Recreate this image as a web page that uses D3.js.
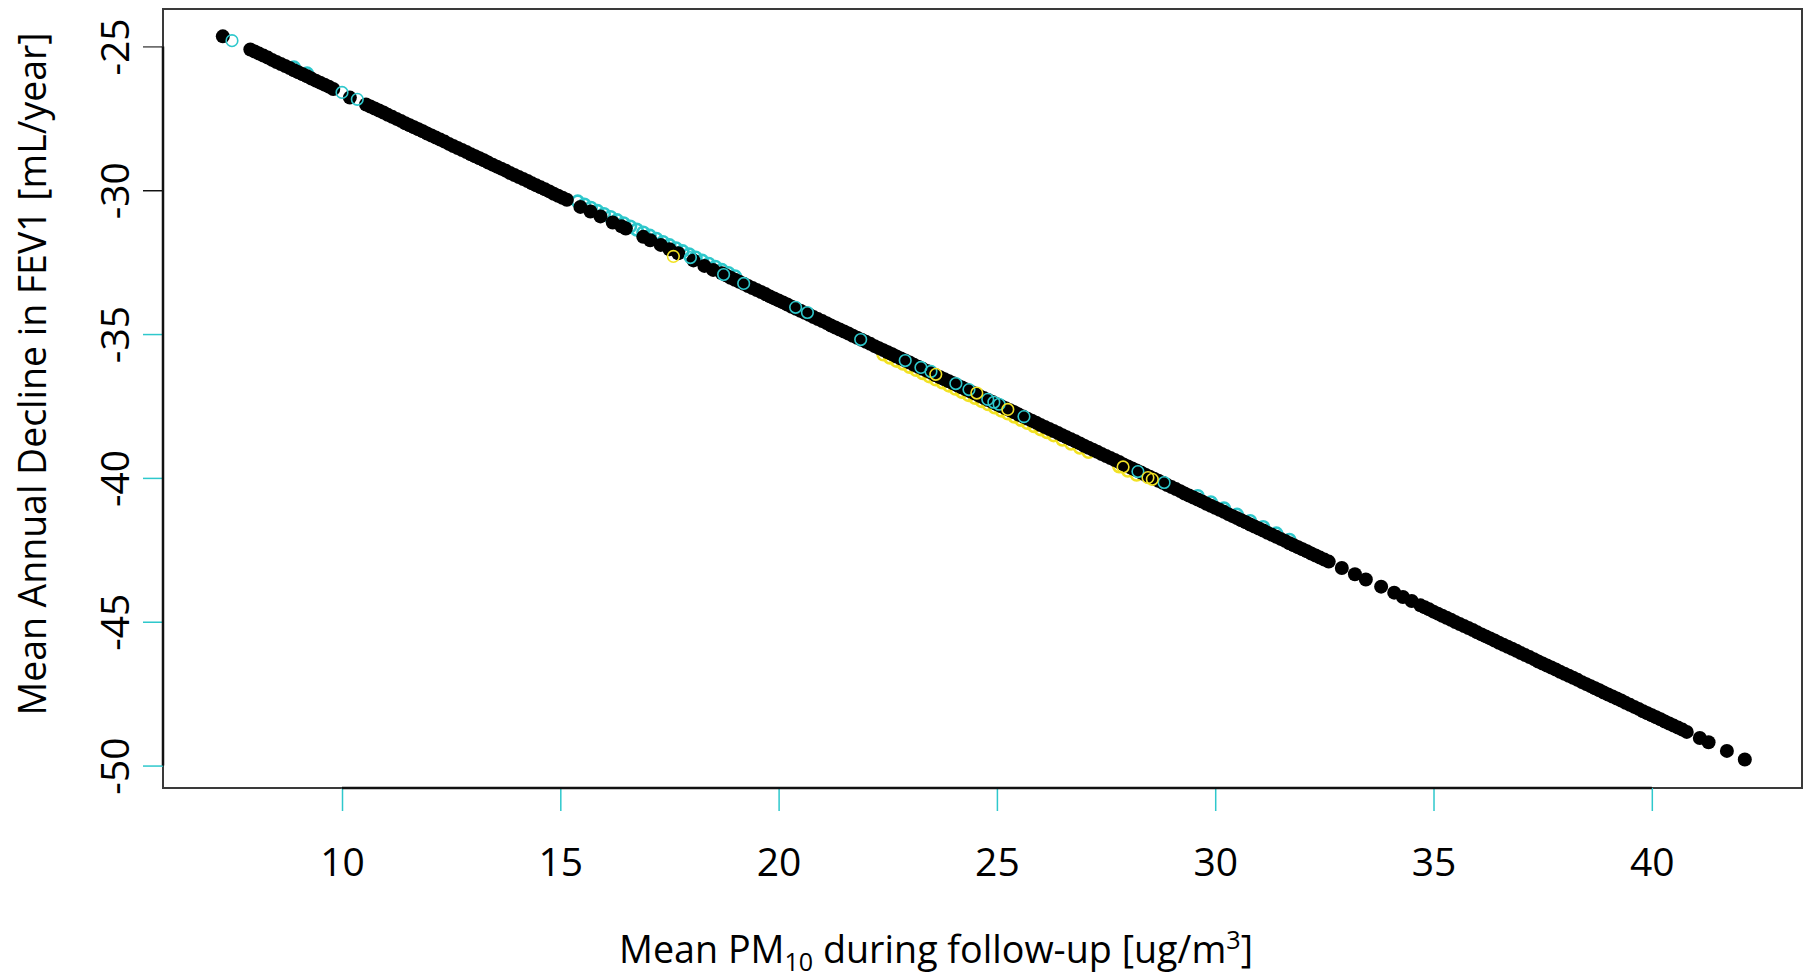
<!DOCTYPE html>
<html>
<head>
<meta charset="utf-8">
<script src="https://cdn.jsdelivr.net/npm/d3@7"></script>
<style>
  body { margin: 0; background: #fff; }
  text { font-family: "Open Sans", "DejaVu Sans", sans-serif; fill: #000; }
</style>
</head>
<body>
<svg width="1803" height="980"></svg>
<script>
// tick labels
var xTicks = [10, 15, 20, 25, 30, 35, 40];
var yTicks = [-25, -30, -35, -40, -45, -50];

// black filled points
var blackX = [7.27,
  7.9, 8.0, 8.1, 8.2, 8.3, 8.4, 8.5, 8.6, 8.7, 8.8, 8.9, 9.0, 9.1, 9.2, 9.3, 9.4, 9.5, 9.6, 9.7, 9.8,
  10.18,
  10.55, 10.65, 10.75, 10.85, 10.95, 11.05, 11.15, 11.25, 11.35, 11.45, 11.55, 11.65, 11.75, 11.85,
  11.95, 12.05, 12.15, 12.25, 12.35, 12.45, 12.55, 12.65, 12.75, 12.85, 12.95, 13.05, 13.15, 13.25,
  13.35, 13.45, 13.55, 13.65, 13.75, 13.85, 13.95, 14.05, 14.15, 14.25, 14.35, 14.45, 14.55, 14.65,
  14.75, 14.85, 14.95, 15.05, 15.15,
  15.46, 15.69, 15.92, 16.2, 16.4, 16.5, 16.9, 17.06, 17.3, 17.5, 17.7, 18.05, 18.3, 18.5,
  18.7, 18.8, 18.9, 19.0, 19.1, 19.2, 19.3, 19.4, 19.5, 19.6, 19.7, 19.8, 19.9, 20.0,
  20.1, 20.2, 20.3, 20.4, 20.5, 20.6, 20.7, 20.8, 20.9, 21.0, 21.1, 21.2, 21.3, 21.4,
  21.5, 21.6, 21.7, 21.8, 21.9, 22.0, 22.1, 22.2, 22.3, 22.4, 22.5, 22.6, 22.7, 22.8,
  22.9, 23.0, 23.1, 23.2, 23.3, 23.4, 23.5, 23.6, 23.7, 23.8, 23.9, 24.0, 24.1, 24.2,
  24.3, 24.4, 24.5, 24.6, 24.7, 24.8, 24.9, 25.0, 25.1, 25.2, 25.3, 25.4, 25.5, 25.6,
  25.7, 25.8, 25.9, 26.0, 26.1, 26.2, 26.3, 26.4, 26.5, 26.6, 26.7, 26.8, 26.9, 27.0,
  27.1, 27.2, 27.3, 27.4, 27.5, 27.6, 27.7, 27.8, 27.9, 28.0, 28.1, 28.2, 28.3, 28.4,
  28.5, 28.6, 28.7, 28.8, 28.9, 29.0, 29.1, 29.2, 29.3, 29.4, 29.5, 29.6, 29.7, 29.8,
  29.9, 30.0, 30.1, 30.2, 30.3, 30.4, 30.5, 30.6, 30.7, 30.8, 30.9, 31.0, 31.1, 31.2,
  31.3, 31.4, 31.5, 31.6, 31.7, 31.8, 31.9, 32.0, 32.1, 32.2, 32.3, 32.4, 32.5, 32.6,
  32.9, 33.2, 33.45, 33.8, 34.1, 34.3, 34.5,
  34.7, 34.8, 34.9, 35.0, 35.1, 35.2, 35.3, 35.4, 35.5, 35.6, 35.7, 35.8, 35.9, 36.0,
  36.1, 36.2, 36.3, 36.4, 36.5, 36.6, 36.7, 36.8, 36.9, 37.0, 37.1, 37.2, 37.3, 37.4,
  37.5, 37.6, 37.7, 37.8, 37.9, 38.0, 38.1, 38.2, 38.3, 38.4, 38.5, 38.6, 38.7, 38.8,
  38.9, 39.0, 39.1, 39.2, 39.3, 39.4, 39.5, 39.6, 39.7, 39.8, 39.9, 40.0, 40.1, 40.2,
  40.3, 40.4, 40.5, 40.6, 40.7, 40.8,
  41.1, 41.3, 41.72, 42.13];
var blackY = [-24.65,
  -25.11, -25.18, -25.25, -25.32, -25.39, -25.47, -25.54, -25.61, -25.68, -25.75, -25.83, -25.90, -25.97, -26.04, -26.12, -26.19, -26.26, -26.33, -26.40, -26.48,
  -26.78,
  -27.02, -27.09, -27.16, -27.23, -27.30, -27.38, -27.45, -27.52, -27.59, -27.67, -27.74, -27.81, -27.88, -27.95,
  -28.03, -28.10, -28.17, -28.24, -28.31, -28.39, -28.46, -28.53, -28.60, -28.67, -28.75, -28.82, -28.89, -28.96,
  -29.04, -29.11, -29.18, -29.25, -29.32, -29.40, -29.47, -29.54, -29.61, -29.68, -29.76, -29.83, -29.90, -29.97,
  -30.04, -30.12, -30.19, -30.26, -30.33,
  -30.58, -30.74, -30.91, -31.12, -31.25, -31.33, -31.62, -31.74, -31.90, -32.05, -32.19, -32.44, -32.63, -32.77,
  -32.89, -32.96, -33.04, -33.11, -33.18, -33.25, -33.33, -33.40, -33.47, -33.54, -33.61, -33.69, -33.76, -33.83,
  -33.90, -33.97, -34.05, -34.12, -34.19, -34.26, -34.33, -34.41, -34.48, -34.55, -34.62, -34.70, -34.77, -34.84,
  -34.91, -34.98, -35.06, -35.13, -35.20, -35.27, -35.34, -35.42, -35.49, -35.56, -35.63, -35.70, -35.78, -35.85,
  -35.92, -35.99, -36.07, -36.14, -36.21, -36.28, -36.35, -36.43, -36.50, -36.57, -36.64, -36.71, -36.79, -36.86,
  -36.93, -37.00, -37.07, -37.15, -37.22, -37.29, -37.36, -37.44, -37.51, -37.58, -37.65, -37.72, -37.80, -37.87,
  -37.94, -38.01, -38.08, -38.16, -38.23, -38.30, -38.37, -38.44, -38.52, -38.59, -38.66, -38.73, -38.80, -38.88,
  -38.95, -39.02, -39.09, -39.17, -39.24, -39.31, -39.38, -39.45, -39.53, -39.60, -39.67, -39.74, -39.81, -39.89,
  -39.96, -40.03, -40.10, -40.17, -40.25, -40.32, -40.39, -40.46, -40.54, -40.61, -40.68, -40.75, -40.82, -40.90,
  -40.97, -41.04, -41.11, -41.18, -41.26, -41.33, -41.40, -41.47, -41.54, -41.62, -41.69, -41.76, -41.83, -41.91,
  -41.98, -42.05, -42.12, -42.19, -42.27, -42.34, -42.41, -42.48, -42.55, -42.63, -42.70, -42.77, -42.84, -42.91,
  -43.13, -43.35, -43.53, -43.78, -43.99, -44.14, -44.28,
  -44.43, -44.50, -44.57, -44.65, -44.72, -44.79, -44.86, -44.93, -45.01, -45.08, -45.15, -45.22, -45.29, -45.37,
  -45.44, -45.51, -45.58, -45.65, -45.73, -45.80, -45.87, -45.94, -46.01, -46.09, -46.16, -46.23, -46.30, -46.38,
  -46.45, -46.52, -46.59, -46.66, -46.74, -46.81, -46.88, -46.95, -47.02, -47.10, -47.17, -47.24, -47.31, -47.38,
  -47.46, -47.53, -47.60, -47.67, -47.74, -47.82, -47.89, -47.96, -48.03, -48.11, -48.18, -48.25, -48.32, -48.39,
  -48.47, -48.54, -48.61, -48.68, -48.75, -48.83,
  -49.04, -49.19, -49.49, -49.79];

// cyan open circles lying under the black band
var cyanUnderX = [8.9, 9.2,
  15.4, 15.55, 15.7, 15.85, 16.0, 16.15, 16.3, 16.45, 16.6, 16.75, 16.9, 17.05, 17.2,
  17.35, 17.5, 17.65, 17.8, 17.95, 18.1, 18.25, 18.4, 18.55, 18.7, 18.85, 19.0,
  29.6, 29.9, 30.2, 30.5, 30.8, 31.1, 31.4, 31.7];
var cyanUnderY = [-25.73, -25.94,
  -30.39, -30.50, -30.61, -30.72, -30.83, -30.93, -31.04, -31.15, -31.26, -31.37, -31.47, -31.58, -31.69,
  -31.80, -31.91, -32.02, -32.12, -32.23, -32.34, -32.45, -32.56, -32.66, -32.77, -32.88, -32.99,
  -40.63, -40.85, -41.06, -41.28, -41.50, -41.71, -41.93, -42.15];

// yellow open circles lying under the black band
var yellowUnderX = [22.4, 22.55, 22.7, 22.85, 23.0, 23.15, 23.3, 23.45, 23.6, 23.75, 23.9, 24.05,
  24.2, 24.35, 24.5, 24.65, 24.8, 24.95, 25.1, 25.25, 25.4, 25.55, 25.7, 25.85, 26.0, 26.15,
  26.3, 26.5, 26.7, 26.9, 27.1, 27.8, 28.0, 28.2];
var yellowUnderY = [-35.71, -35.82, -35.93, -36.03, -36.14, -36.25, -36.36, -36.47, -36.58, -36.68, -36.79, -36.90,
  -37.01, -37.12, -37.22, -37.33, -37.44, -37.55, -37.66, -37.76, -37.87, -37.98, -38.09, -38.20, -38.31, -38.41,
  -38.52, -38.67, -38.81, -38.95, -39.10, -39.60, -39.75, -39.89];

// open circles drawn over the black band
var cyanX = [7.48, 10.0, 10.35, 17.98, 18.74, 19.2, 20.39, 20.66, 21.88, 22.9, 23.26, 23.49,
  24.06, 24.36, 24.79, 24.93, 25.05, 25.62, 28.23, 28.83];
var cyanY = [-24.80, -26.60, -26.84, -32.34, -32.93, -33.24, -34.07, -34.25, -35.19, -35.92, -36.16, -36.30,
  -36.72, -36.93, -37.27, -37.37, -37.44, -37.87, -39.78, -40.16];
var yellowX = [17.59, 23.60, 24.54, 25.25, 27.89, 28.46, 28.56];
var yellowY = [-32.30, -36.40, -37.05, -37.62, -39.62, -39.99, -40.05];

var cyan = "#2ec8cc",
    yellow = "#f2e224";

var svg = d3.select("svg"),
    plotLeft = 163, plotTop = 9, plotRight = 1802, plotBottom = 788;

var x = d3.scaleLinear()
    .domain([5.9, 43.44])
    .range([plotLeft, plotRight]);

var y = d3.scaleLinear()
    .domain([-50.78, -23.70])
    .range([plotBottom, plotTop]);

var r = 7;

// plot box
svg.append("rect")
    .attr("x", plotLeft)
    .attr("y", plotTop)
    .attr("width", plotRight - plotLeft)
    .attr("height", plotBottom - plotTop)
    .attr("fill", "none")
    .attr("stroke", "#3a3a3a")
    .attr("stroke-width", 2);

function openCircles(xs, ys, color, sw) {
    svg.append("g")
        .selectAll("circle")
        .data(d3.zip(xs, ys)).enter()
        .append("circle")
        .attr("cx", function(d) { return x(d[0]); })
        .attr("cy", function(d) { return y(d[1]); })
        .attr("r", r - 1.2)
        .attr("fill", "none")
        .attr("stroke", color)
        .attr("stroke-width", sw);
}

openCircles(cyanUnderX, cyanUnderY, cyan, 2.6);
openCircles(yellowUnderX, yellowUnderY, yellow, 2.6);

svg.append("g")
    .selectAll("circle")
    .data(d3.zip(blackX, blackY)).enter()
    .append("circle")
    .attr("cx", function(d) { return x(d[0]); })
    .attr("cy", function(d) { return y(d[1]); })
    .attr("r", r)
    .attr("fill", "#000");

openCircles(cyanX, cyanY, cyan, 1.6);
openCircles(yellowX, yellowY, yellow, 1.6);

// x axis
var gx = svg.append("g")
    .attr("transform", "translate(0," + plotBottom + ")")
    .call(d3.axisBottom(x).tickValues(xTicks).tickSize(23).tickSizeOuter(0)
        .tickFormat(function(d) { return String(d); }));
gx.select(".domain").remove();
gx.selectAll(".tick line").attr("stroke", cyan).attr("stroke-width", 1.5);
gx.selectAll(".tick text")
    .attr("y", 88)
    .attr("dy", 0)
    .style("font-size", "39px")
    .style("font-family", "Open Sans");
gx.append("line")
    .attr("x1", x(xTicks[0]))
    .attr("x2", x(xTicks[xTicks.length - 1]))
    .attr("stroke", "#111")
    .attr("stroke-width", 2.5);

// y axis
var gy = svg.append("g")
    .attr("transform", "translate(" + plotLeft + ",0)")
    .call(d3.axisLeft(y).tickValues(yTicks).tickSize(20).tickSizeOuter(0)
        .tickFormat(function(d) { return String(d); }));
gy.select(".domain").remove();
gy.selectAll(".tick line")
    .attr("stroke", function(d) { return d == -25 ? "#555" : d == -30 ? "#111" : cyan; })
    .attr("stroke-width", 1.5);
gy.selectAll(".tick text")
    .attr("x", 0)
    .attr("y", 0)
    .attr("dy", 0)
    .attr("transform", "translate(-34,0) rotate(-90)")
    .style("text-anchor", "middle")
    .style("font-size", "39px")
    .style("font-family", "Open Sans");
gy.append("line")
    .attr("y1", y(yTicks[0]))
    .attr("y2", y(yTicks[yTicks.length - 1]))
    .attr("stroke", "#111")
    .attr("stroke-width", 2.5);

// axis titles
var xt = svg.append("text")
    .attr("x", 936)
    .attr("y", 963)
    .attr("text-anchor", "middle")
    .style("font-size", "39px")
    .attr("textLength", 634)
    .attr("lengthAdjust", "spacingAndGlyphs");
xt.append("tspan").text("Mean PM");
xt.append("tspan").attr("dy", 8).style("font-size", "26px").text("10");
xt.append("tspan").attr("dy", -8).text(" during follow-up [ug/m");
xt.append("tspan").attr("dy", -14).style("font-size", "26px").text("3");
xt.append("tspan").attr("dy", 14).text("]");

svg.append("text")
    .attr("transform", "translate(46,374) rotate(-90)")
    .attr("text-anchor", "middle")
    .style("font-size", "39px")
    .attr("textLength", 683)
    .attr("lengthAdjust", "spacingAndGlyphs")
    .text("Mean Annual Decline in FEV1 [mL/year]");
</script>
</body>
</html>
